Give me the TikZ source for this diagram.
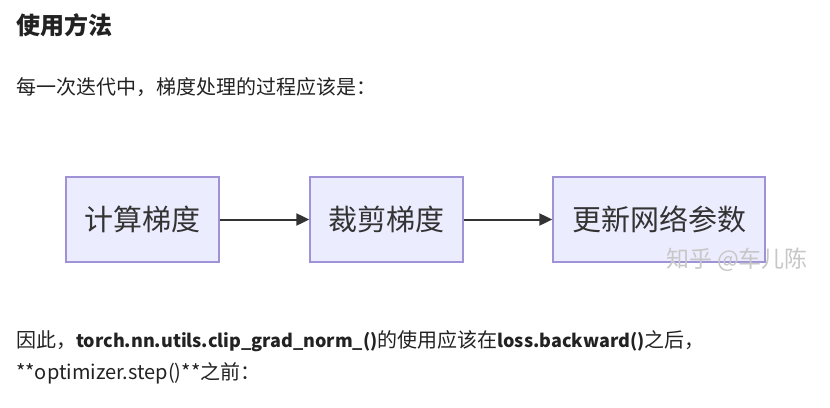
\documentclass[tikz,border=0pt]{standalone}
\usepackage{fontspec}
\setmainfont{Noto Sans CJK SC}
\usetikzlibrary{arrows.meta}
\definecolor{boxfill}{HTML}{ECECFF}
\definecolor{boxline}{HTML}{9F92D6}
\definecolor{txt}{HTML}{222222}
\definecolor{boxtxt}{HTML}{333333}
\newcommand{\boldcode}[1]{{\fontsize{18}{24}\selectfont\bfseries #1}}
\tikzset{
  flowbox/.style={draw=boxline, line width=1.3pt, fill=boxfill, inner sep=0pt,
    text=boxtxt, font=\fontsize{29}{34}\selectfont},
  flowarrow/.style={draw=boxtxt, line width=2pt, -{Triangle[length=13pt,width=12pt]}},
  bodytext/.style={anchor=base west, inner sep=0pt, text=txt, font=\fontsize{20}{24}\selectfont},
}
\begin{document}
\begin{tikzpicture}[x=1pt,y=-1pt]
\useasboundingbox[fill=white] (0,0) rectangle (830,407);
\node[bodytext, font=\fontsize{24}{28}\selectfont\bfseries] (title) at (16,34) {使用方法};
\node[bodytext] (intro) at (16,94.5) {每一次迭代中，梯度处理的过程应该是：};
\node[flowbox, minimum width=153pt, minimum height=85pt] (b1) at (142.5,219.5) {计算梯度};
\node[flowbox, minimum width=153pt, minimum height=85pt] (b2) at (386.5,219.5) {裁剪梯度};
\node[flowbox, minimum width=212pt, minimum height=85pt] (b3) at (659,219.5) {更新网络参数};
\draw[flowarrow] (b1) -- (b2);
\draw[flowarrow] (b2) -- (b3);
\node[inner sep=0pt, text=black!22, font=\fontsize{23}{27}\selectfont] (wm) at (737,260) {知乎 @车儿陈};
\node[bodytext] (l1) at (16,347.5) {因此，\boldcode{torch.nn.utils.clip\_grad\_norm\_()}的使用应该在\boldcode{loss.backward()}之后，};
\node[bodytext] (l2) at (16,379.5) {**optimizer.step()**之前：};
\end{tikzpicture}
\end{document}
